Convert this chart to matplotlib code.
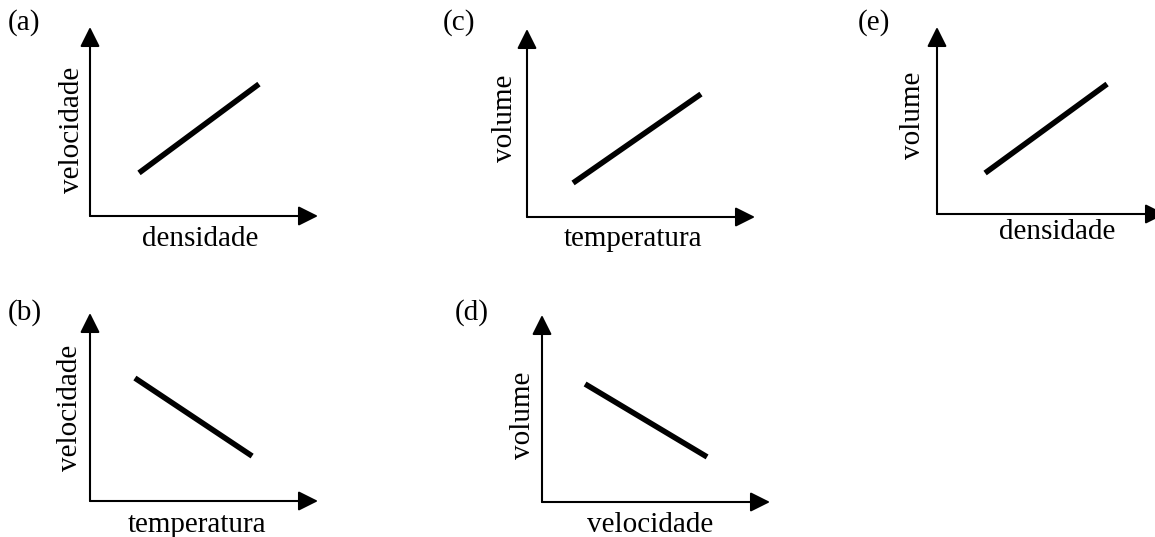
import matplotlib
matplotlib.use("Agg")
import matplotlib.pyplot as plt

W, H = 1155, 537
plt.rcParams['font.family'] = ['Liberation Serif', 'DejaVu Serif']

panel_labels = ["(a)", "(b)", "(c)", "(d)", "(e)"]
x_labels = ["densidade", "temperatura", "temperatura", "velocidade", "densidade"]
y_labels = ["velocidade", "velocidade", "volume", "volume", "volume"]
line_x = [[0.215, 0.741], [0.197, 0.711], [0.202, 0.763], [0.189, 0.724], [0.211, 0.746]]
line_y = [[0.228, 0.698], [0.654, 0.239], [0.181, 0.654], [0.631, 0.241], [0.219, 0.695]]

# layout in pixels: origin (ox, oy), axis lengths (w, h)
origins = [(90, 216), (90, 501), (527, 217), (542, 502), (937, 214)]
sizes = [(228, 189), (228, 188), (228, 188), (228, 187), (228, 187)]
label_pos = [(8, 30), (8, 320), (443, 30), (455, 320), (858, 30)]
xlab_pos = [(200, 239), (197, 525), (633, 239), (650, 525), (1057, 232)]
ylab_pos = [(72, 130), (70, 408), (505, 118), (523, 415), (913, 115)]

fig = plt.figure(figsize=(W / 100, H / 100), dpi=100)
fs = 21

for i in range(5):
    ox, oy = origins[i]
    w, h = sizes[i]
    ax = fig.add_axes([ox / W, 1 - oy / H, w / W, h / H])
    ax.set_xlim(0, 1)
    ax.set_ylim(0, 1)
    ax.axis('off')
    aprops = dict(arrowstyle='-|>,head_length=0.4,head_width=0.2', mutation_scale=30,
                  lw=1.5, color='black', shrinkA=0, shrinkB=0)
    ax.annotate('', xy=(1, 0), xytext=(0, 0), arrowprops=aprops, annotation_clip=False)
    ax.annotate('', xy=(0, 1), xytext=(0, 0), arrowprops=aprops, annotation_clip=False)
    ax.plot(line_x[i], line_y[i], color='black', lw=4.0, solid_capstyle='butt', clip_on=False)

    lx, ly = label_pos[i]
    fig.text(lx / W, 1 - ly / H, panel_labels[i], fontsize=fs, ha='left', va='baseline')
    xx, xy = xlab_pos[i]
    fig.text(xx / W, 1 - xy / H, x_labels[i], fontsize=fs, ha='center', va='center')
    yx, yy = ylab_pos[i]
    fig.text(yx / W, 1 - yy / H, y_labels[i], fontsize=fs, ha='center', va='center', rotation=90)

fig.savefig('out.png', dpi=100)
